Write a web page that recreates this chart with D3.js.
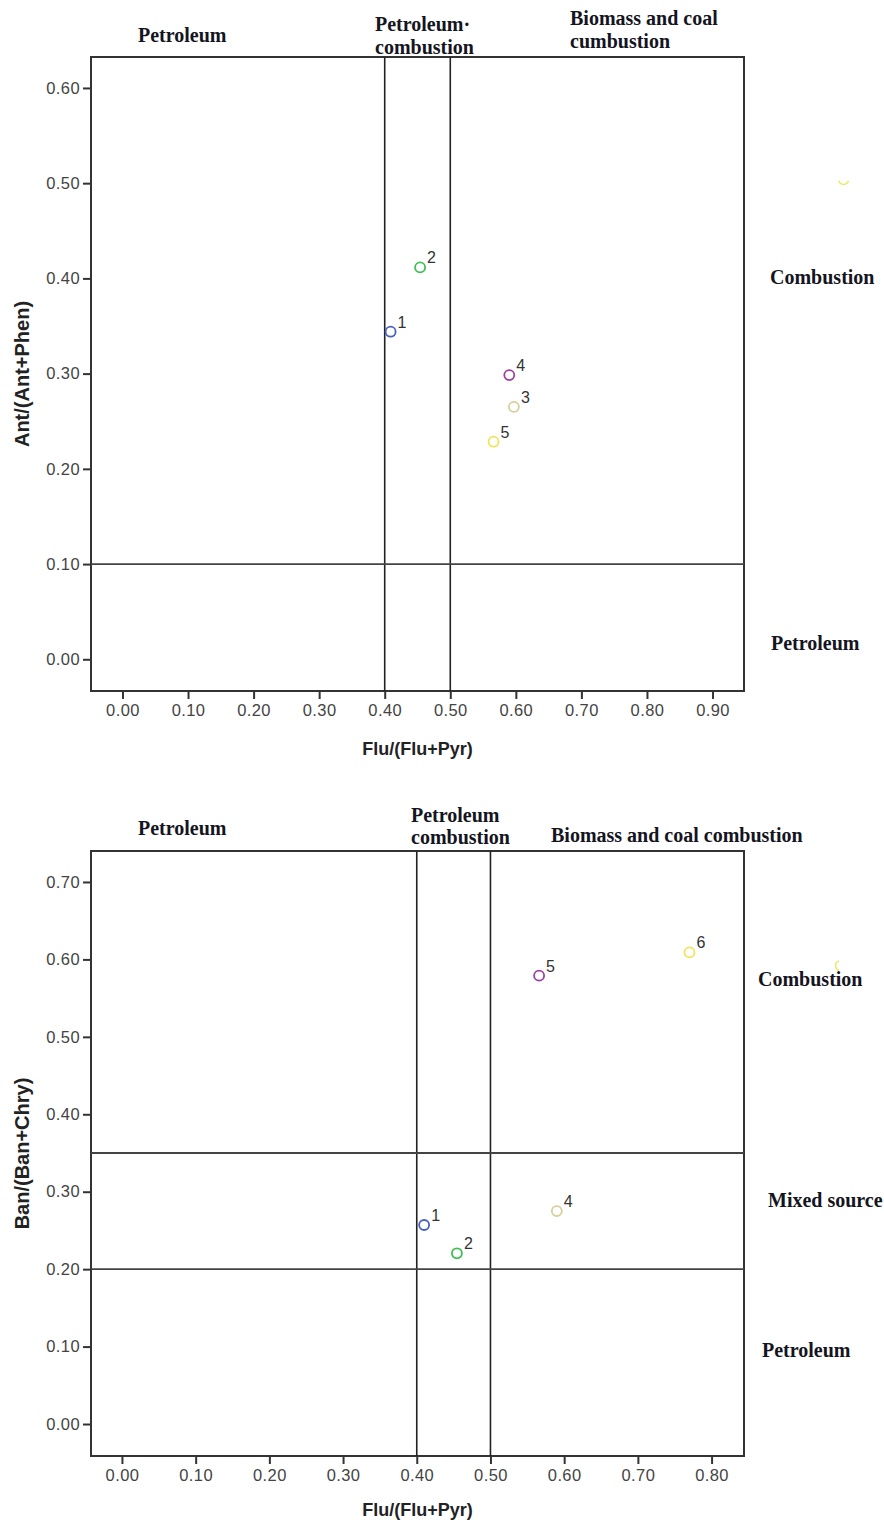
<!DOCTYPE html>
<html>
<head>
<meta charset="utf-8">
<script src="https://cdn.jsdelivr.net/npm/d3@7"></script>
<style>
  html, body { margin: 0; padding: 0; background: #fff; }
  svg { display: block; }
</style>
</head>
<body>
<svg id="chart" width="884" height="1523"></svg>
<script>
// ---------- Data ----------
// Panel A: Flu/(Flu+Pyr) vs Ant/(Ant+Phen)
const topIds = ["1", "2", "3", "4", "5", ""];
const topX = [0.409, 0.454, 0.597, 0.590, 0.566, 1.100];
const topY = [0.344, 0.4115, 0.265, 0.2985, 0.2285, 0.504];
const topColors = ["#4a62bf", "#3cbf55", "#d6cf9a", "#9c3fa0", "#ede65a", "#ede65a"];
const topXTicks = [0.0, 0.1, 0.2, 0.3, 0.4, 0.5, 0.6, 0.7, 0.8, 0.9];
const topYTicks = [0.0, 0.1, 0.2, 0.3, 0.4, 0.5, 0.6];
const topVLines = [0.4, 0.5];
const topHLines = [0.1];

// Panel B: Flu/(Flu+Pyr) vs Ban/(Ban+Chry)
const botIds = ["1", "2", "4", "5", "6", ""];
const botX = [0.410, 0.4545, 0.590, 0.566, 0.770, 0.975];
const botY = [0.257, 0.2205, 0.275, 0.579, 0.609, 0.592];
const botColors = ["#4a62bf", "#3cbf55", "#d6cf9a", "#9c3fa0", "#ede65a", "#ede65a"];
const botXTicks = [0.0, 0.1, 0.2, 0.3, 0.4, 0.5, 0.6, 0.7, 0.8];
const botYTicks = [0.0, 0.1, 0.2, 0.3, 0.4, 0.5, 0.6, 0.7];
const botVLines = [0.4, 0.5];
const botHLines = [0.2, 0.35];

// ---------- Drawing ----------
const svg = d3.select("#chart");
const fmt = d3.format(".2f");

function panel(cfg) {
  const g = svg.append("g");
  const x = d3.scaleLinear().domain(cfg.xDomain).range([cfg.left, cfg.right]);
  const y = d3.scaleLinear().domain(cfg.yDomain).range([cfg.bottom, cfg.top]);

  // axes
  const xAxis = d3.axisBottom(x).tickValues(cfg.xTicks).tickFormat(fmt).tickSizeOuter(0).tickSize(8).tickPadding(5);
  const yAxis = d3.axisLeft(y).tickValues(cfg.yTicks).tickFormat(fmt).tickSizeOuter(0).tickSize(8).tickPadding(3);
  const gx = g.append("g").attr("transform", `translate(0,${cfg.bottom})`).call(xAxis);
  const gy = g.append("g").attr("transform", `translate(${cfg.left},0)`).call(yAxis);
  [gx, gy].forEach(a => {
    a.select(".domain").remove();
    a.selectAll(".tick line").attr("stroke", "#333").attr("stroke-width", 2);
    a.selectAll(".tick text")
      .attr("fill", "#444")
      .style("font-family", "Arial, 'Liberation Sans', sans-serif")
      .style("font-size", "16.5px")
      .style("letter-spacing", "0.4px");
  });

  // frame
  g.append("rect")
    .attr("x", cfg.left).attr("y", cfg.top)
    .attr("width", cfg.right - cfg.left).attr("height", cfg.bottom - cfg.top)
    .attr("fill", "none").attr("stroke", "#333").attr("stroke-width", 2);

  // reference lines
  g.selectAll(".vl").data(cfg.vLines).enter().append("line")
    .attr("x1", d => x(d)).attr("x2", d => x(d))
    .attr("y1", cfg.top).attr("y2", cfg.bottom)
    .attr("stroke", "#222").attr("stroke-width", 1.6);
  g.selectAll(".hl").data(cfg.hLines).enter().append("line")
    .attr("x1", cfg.left).attr("x2", cfg.right)
    .attr("y1", d => y(d)).attr("y2", d => y(d))
    .attr("stroke", "#444").attr("stroke-width", 1.8);

  // points
  const pts = cfg.ids.map((id, i) => ({ id, x: cfg.xs[i], y: cfg.ys[i], c: cfg.colors[i] }));
  const clipId = "clip" + cfg.key;
  const defs = svg.append("defs");

  pts.forEach((p, i) => {
    const cx = x(p.x), cy = y(p.y);
    const c = g.append("circle")
      .attr("cx", cx).attr("cy", cy).attr("r", 5)
      .attr("fill", "none").attr("stroke", p.c).attr("stroke-width", 1.8);
    if (p.id === "") {
      // partially visible stray marker
      const pid = clipId + "_" + i;
      const cpp = defs.append("clipPath").attr("id", pid);
      if (cfg.strayClip === "bottom") {
        cpp.append("rect").attr("x", cx - 10).attr("y", cy + 1.5).attr("width", 20).attr("height", 10);
      } else {
        cpp.append("rect").attr("x", cx - 10).attr("y", cy - 10).attr("width", 8.5).attr("height", 20);
      }
      c.attr("clip-path", `url(#${pid})`).attr("stroke-width", 1.4);
    } else {
      g.append("text")
        .attr("x", cx + 7).attr("y", cy - 4)
        .attr("fill", "#333")
        .style("font-family", "Arial, 'Liberation Sans', sans-serif")
        .style("font-size", "16px")
        .text(p.id);
    }
  });

  // axis titles
  g.append("text")
    .attr("x", (cfg.left + cfg.right) / 2).attr("y", cfg.xTitleY)
    .attr("text-anchor", "middle")
    .style("font-family", "Arial, 'Liberation Sans', sans-serif")
    .style("font-weight", "bold").style("font-size", "18px")
    .attr("fill", "#222")
    .text(cfg.xTitle);
  g.append("text")
    .attr("transform", `translate(29,${(cfg.top + cfg.bottom) / 2}) rotate(-90)`)
    .attr("text-anchor", "middle")
    .style("font-family", "Arial, 'Liberation Sans', sans-serif")
    .style("font-weight", "bold").style("font-size", "20px")
    .attr("fill", "#222")
    .text(cfg.yTitle);

  // region annotations
  cfg.notes.forEach(n => {
    g.append("text")
      .attr("x", n.x).attr("y", n.y)
      .style("font-family", "'Liberation Serif', 'Times New Roman', serif")
      .style("font-weight", "bold").style("font-size", "20px")
      .attr("fill", "#151522")
      .text(n.t);
  });
}

panel({
  key: "A",
  left: 91, right: 744, top: 57, bottom: 691,
  xDomain: [-0.048, 0.948], yDomain: [-0.0333, 0.6325],
  xTicks: topXTicks, yTicks: topYTicks,
  vLines: topVLines, hLines: topHLines,
  ids: topIds, xs: topX, ys: topY, colors: topColors,
  strayClip: "bottom",
  xTitle: "Flu/(Flu+Pyr)", xTitleY: 755,
  yTitle: "Ant/(Ant+Phen)",
  notes: [
    { t: "Petroleum", x: 138, y: 42 },
    { t: "Petroleum\u00B7", x: 375, y: 31 },
    { t: "combustion", x: 375, y: 54 },
    { t: "Biomass and coal", x: 570, y: 25 },
    { t: "cumbustion", x: 570, y: 48 },
    { t: "Combustion", x: 770, y: 284 },
    { t: "Petroleum", x: 771, y: 650 }
  ]
});

panel({
  key: "B",
  left: 91, right: 744, top: 851, bottom: 1456,
  xDomain: [-0.042, 0.844], yDomain: [-0.0413, 0.74],
  xTicks: botXTicks, yTicks: botYTicks,
  vLines: botVLines, hLines: botHLines,
  ids: botIds, xs: botX, ys: botY, colors: botColors,
  strayClip: "left",
  xTitle: "Flu/(Flu+Pyr)", xTitleY: 1516,
  yTitle: "Ban/(Ban+Chry)",
  notes: [
    { t: "Petroleum", x: 138, y: 835 },
    { t: "Petroleum", x: 411, y: 822 },
    { t: "combustion", x: 411, y: 844 },
    { t: "Biomass and coal combustion", x: 551, y: 842 },
    { t: "Combustion", x: 758, y: 986 },
    { t: "Mixed source", x: 768, y: 1207 },
    { t: "Petroleum", x: 762, y: 1357 }
  ]
});
</script>
</body>
</html>
